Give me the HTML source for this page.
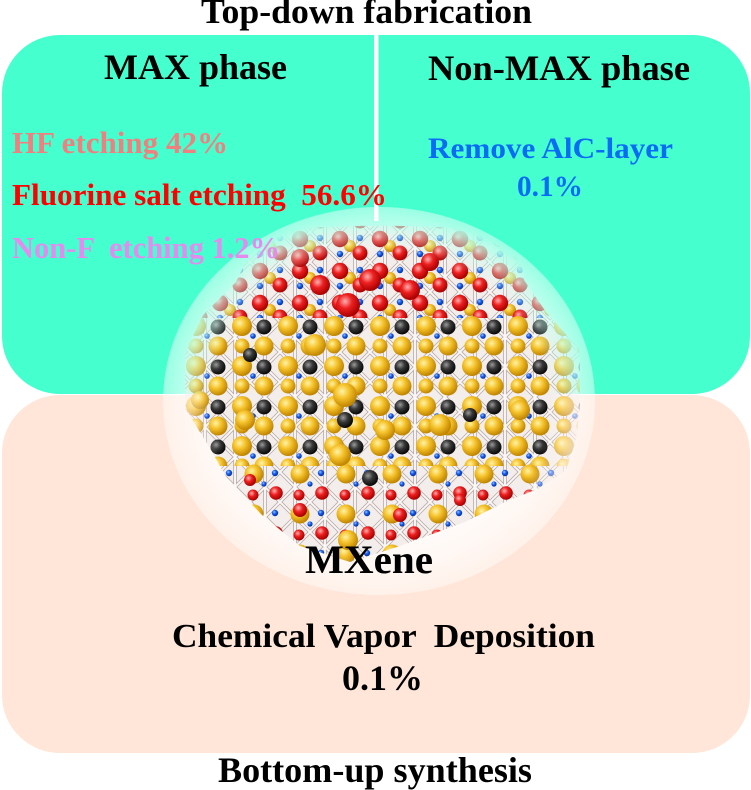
<!DOCTYPE html>
<html>
<head>
<meta charset="utf-8">
<style>
  html, body { margin: 0; padding: 0; background: #ffffff; }
  svg { display: block; }
  text { font-family: "Liberation Serif", "Times New Roman", serif; font-weight: bold; }
</style>
</head>
<body>
<svg width="751" height="790" viewBox="0 0 751 790" xmlns="http://www.w3.org/2000/svg">
  <defs>
    <radialGradient id="gG" cx="0.38" cy="0.35" r="0.65">
      <stop offset="0" stop-color="#fff3a8"/>
      <stop offset="0.45" stop-color="#f5c22a"/>
      <stop offset="1" stop-color="#c08400"/>
    </radialGradient>
    <radialGradient id="gK" cx="0.38" cy="0.35" r="0.65">
      <stop offset="0" stop-color="#9a9a9a"/>
      <stop offset="0.45" stop-color="#383838"/>
      <stop offset="1" stop-color="#080808"/>
    </radialGradient>
    <radialGradient id="gR" cx="0.38" cy="0.35" r="0.65">
      <stop offset="0" stop-color="#ffb0b0"/>
      <stop offset="0.45" stop-color="#ec1f1f"/>
      <stop offset="1" stop-color="#a80000"/>
    </radialGradient>
    <radialGradient id="gB" cx="0.38" cy="0.35" r="0.65">
      <stop offset="0" stop-color="#9cc8ff"/>
      <stop offset="0.45" stop-color="#1a5ef0"/>
      <stop offset="1" stop-color="#0030a0"/>
    </radialGradient>
    <radialGradient id="glow" cx="0.5" cy="0.5" r="0.5">
      <stop offset="0" stop-color="#ffffff" stop-opacity="1"/>
      <stop offset="0.6" stop-color="#ffffff" stop-opacity="0.97"/>
      <stop offset="0.82" stop-color="#ffffff" stop-opacity="0.75"/>
      <stop offset="0.95" stop-color="#ffffff" stop-opacity="0.55"/>
      <stop offset="1" stop-color="#ffffff" stop-opacity="0.45"/>
    </radialGradient>
    <radialGradient id="fadeG" cx="0.5" cy="0.5" r="0.5">
      <stop offset="0" stop-color="#ffffff"/>
      <stop offset="0.8" stop-color="#ffffff"/>
      <stop offset="1" stop-color="#000000"/>
    </radialGradient>
    <mask id="fade" maskUnits="userSpaceOnUse" x="0" y="0" width="751" height="790">
      <rect x="168" y="212" width="424" height="386" fill="url(#fadeG)"/>
    </mask>
    <clipPath id="molclip">
      <path d="M258,236 C300,222 470,222 518,238 L524,280 L546,312 L580,350 L580,405 L576,440 L566,470 L540,488 L505,502 L465,522 L400,546 L350,562 L300,546 L262,515 L228,480 L208,445 L185,408 L185,352 L203,315 L236,282 Z"/>
    </clipPath>
    <pattern id="bond" width="30" height="30" patternUnits="userSpaceOnUse" patternTransform="translate(190,232)">
      <path d="M0,0 L30,30 M30,0 L0,30 M15,0 L15,30" stroke="#b9aca8" stroke-width="3.6" fill="none"/>
      <path d="M0,0 L30,30 M30,0 L0,30 M15,0 L15,30" stroke="#faf7f6" stroke-width="1.9" fill="none"/>
    </pattern>
    <pattern id="top" width="40" height="32" patternUnits="userSpaceOnUse" patternTransform="translate(250,230)">
      <circle cx="20" cy="16" r="6" fill="url(#gG)"/>
      <circle cx="30" cy="8" r="3.2" fill="url(#gB)"/>
      <circle cx="10" cy="24" r="3.2" fill="url(#gB)"/>
      <circle cx="10" cy="9" r="8.2" fill="url(#gR)"/>
      <circle cx="30" cy="23" r="7.5" fill="url(#gR)"/>
    </pattern>
    <pattern id="mid" width="46" height="40" patternUnits="userSpaceOnUse" patternTransform="translate(184,316)">
      <circle cx="23" cy="20" r="2.8" fill="url(#gB)"/>
      <circle cx="12" cy="30" r="7.5" fill="url(#gG)"/>
      <circle cx="34" cy="11" r="7.5" fill="url(#gK)"/>
      <circle cx="12" cy="10" r="10" fill="url(#gG)"/>
      <circle cx="34" cy="30" r="9.5" fill="url(#gG)"/>
    </pattern>
    <pattern id="bot" width="46" height="40" patternUnits="userSpaceOnUse" patternTransform="translate(196,464)">
      <circle cx="33" cy="9" r="3.2" fill="url(#gB)"/>
      <circle cx="22" cy="20" r="2.6" fill="url(#gB)"/>
      <circle cx="12" cy="10" r="9.5" fill="url(#gG)"/>
      <circle cx="34" cy="29" r="6.8" fill="url(#gR)"/>
      <circle cx="11" cy="31" r="5.5" fill="url(#gR)"/>
    </pattern>
  </defs>

  <!-- boxes -->
  <rect x="2" y="35" width="748" height="359" rx="58" ry="58" fill="#46ffce"/>
  <rect x="2" y="395" width="748" height="358" rx="58" ry="58" fill="#ffe6d8"/>

  <!-- divider -->
  <rect x="374" y="35" width="4.5" height="186" fill="#ffffff"/>

  <!-- glow -->
  <ellipse cx="379" cy="401" rx="216" ry="194" fill="url(#glow)"/>

  <!-- molecule -->
  <g mask="url(#fade)">
    <g clip-path="url(#molclip)">
      <rect x="180" y="220" width="410" height="350" fill="#f3eeec"/>
      <rect x="180" y="220" width="410" height="350" fill="url(#bond)"/>
      <rect x="180" y="220" width="410" height="98" fill="url(#top)"/>
      <rect x="180" y="316" width="410" height="150" fill="url(#mid)"/>
      <rect x="180" y="464" width="410" height="104" fill="url(#bot)"/>
      <!-- foreground highlight atoms -->
      <circle cx="300" cy="258" r="9" fill="url(#gR)"/>
      <circle cx="430" cy="262" r="9" fill="url(#gR)"/>
      <circle cx="320" cy="285" r="10" fill="url(#gR)"/>
      <circle cx="410" cy="290" r="10" fill="url(#gR)"/>
      <circle cx="370" cy="280" r="11" fill="url(#gR)"/>
      <circle cx="348" cy="305" r="12" fill="url(#gR)"/>
      <circle cx="250" cy="355" r="7" fill="url(#gK)"/>
      <circle cx="315" cy="345" r="11" fill="url(#gG)"/>
      <circle cx="200" cy="400" r="9" fill="url(#gG)"/>
      <circle cx="245" cy="420" r="10" fill="url(#gG)"/>
      <circle cx="345" cy="395" r="12" fill="url(#gG)"/>
      <circle cx="345" cy="420" r="8" fill="url(#gK)"/>
      <circle cx="385" cy="430" r="10" fill="url(#gG)"/>
      <circle cx="440" cy="425" r="11" fill="url(#gG)"/>
      <circle cx="470" cy="415" r="7" fill="url(#gK)"/>
      <circle cx="520" cy="410" r="10" fill="url(#gG)"/>
      <circle cx="340" cy="455" r="11" fill="url(#gG)"/>
      <circle cx="370" cy="478" r="8" fill="url(#gK)"/>
      <circle cx="250" cy="480" r="6" fill="url(#gR)"/>
      <circle cx="460" cy="500" r="6" fill="url(#gR)"/>
      <circle cx="300" cy="510" r="7" fill="url(#gR)"/>
      <circle cx="400" cy="515" r="7" fill="url(#gR)"/>
      <circle cx="348" cy="540" r="10" fill="url(#gG)"/>
    </g>
  </g>

  <!-- text -->
  <text x="201" y="23" font-size="35" fill="#000" textLength="331" lengthAdjust="spacingAndGlyphs">Top-down fabrication</text>
  <text x="104" y="79" font-size="36" fill="#000" textLength="183" lengthAdjust="spacingAndGlyphs">MAX phase</text>
  <text x="428" y="80" font-size="36" fill="#000" textLength="262" lengthAdjust="spacingAndGlyphs">Non-MAX phase</text>

  <text x="12" y="153" font-size="31" fill="#f08080" textLength="216" lengthAdjust="spacingAndGlyphs">HF etching 42%</text>
  <text x="12" y="205" font-size="31" fill="#ff0000" textLength="375" lengthAdjust="spacingAndGlyphs" xml:space="preserve">Fluorine salt etching  56.6%</text>
  <text x="12" y="258" font-size="31" fill="#e58bf0" textLength="268" lengthAdjust="spacingAndGlyphs" xml:space="preserve">Non-F  etching 1.2%</text>

  <text x="428" y="158" font-size="30" fill="#0a6cf5" textLength="245" lengthAdjust="spacingAndGlyphs">Remove AlC-layer</text>
  <text x="517" y="196" font-size="30" fill="#0a6cf5" textLength="66" lengthAdjust="spacingAndGlyphs">0.1%</text>

  <text x="305" y="573" font-size="40" fill="#000" textLength="128" lengthAdjust="spacingAndGlyphs">MXene</text>
  <text x="172" y="647" font-size="34" fill="#000" textLength="423" lengthAdjust="spacingAndGlyphs" xml:space="preserve">Chemical Vapor  Deposition</text>
  <text x="342" y="690" font-size="36" fill="#000" textLength="81" lengthAdjust="spacingAndGlyphs">0.1%</text>
  <text x="218" y="782" font-size="36" fill="#000" textLength="314" lengthAdjust="spacingAndGlyphs">Bottom-up synthesis</text>
</svg>
</body>
</html>
